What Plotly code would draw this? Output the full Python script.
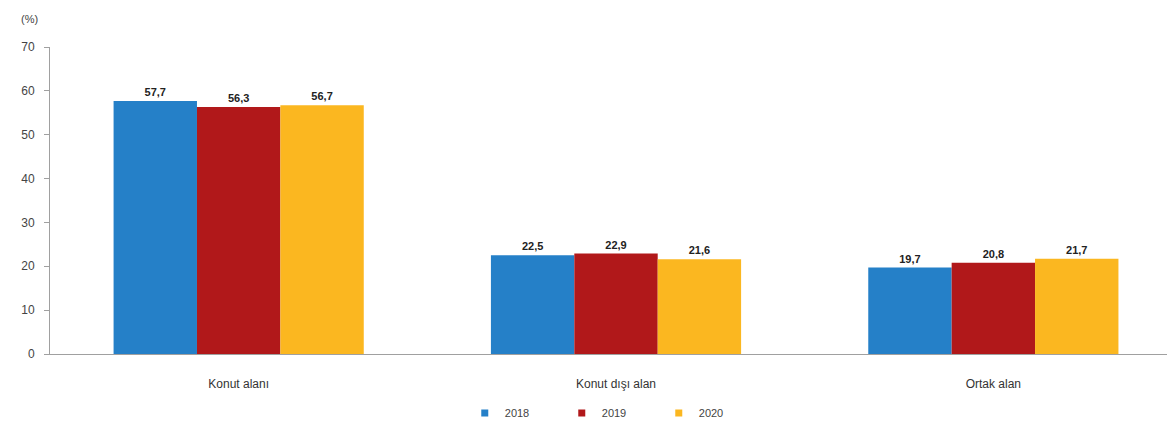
import plotly.graph_objects as go

categories = ["Konut alanı", "Konut dışı alan", "Ortak alan"]
years = ["2018", "2019", "2020"]
values_2018 = [57.7, 22.5, 19.7]
values_2019 = [56.3, 22.9, 20.8]
values_2020 = [56.7, 21.6, 21.7]
colors = ["#2580C8", "#B1181A", "#FBB720"]
y_ticks = [0, 10, 20, 30, 40, 50, 60, 70]

series = [values_2018, values_2019, values_2020]

fig = go.Figure()
for name, vals, col in zip(years, series, colors):
    fig.add_trace(go.Bar(
        x=categories, y=vals, name=name, showlegend=False,
        marker=dict(color=col, line=dict(width=0)),
        text=[f"{v:.1f}".replace(".", ",") for v in vals],
        textposition="outside",
        textfont=dict(family="Arial, Liberation Sans", size=11, color="#222222"),
        texttemplate="<b>%{text}</b>",
        cliponaxis=False,
    ))
# legend entries with small square markers
for name, col in zip(years, colors):
    fig.add_trace(go.Scatter(
        x=[None], y=[None], mode="markers", name=name,
        marker=dict(symbol="square", size=7, color=col),
        showlegend=True,
    ))

fig.update_layout(
    width=1175, height=425,
    margin=dict(l=42, r=0, t=39, b=79, autoexpand=False),
    paper_bgcolor="white", plot_bgcolor="white",
    barmode="group", bargap=0.337, bargroupgap=0,
    font=dict(family="Arial, Liberation Sans", size=12, color="#444444"),
    showlegend=True,
    legend=dict(orientation="h", x=0.4945, xanchor="center", y=-0.192, yanchor="middle",
                font=dict(size=11, color="#444444"), itemwidth=30,
                entrywidth=52, entrywidthmode="pixels",
                traceorder="normal"),
    annotations=[dict(text="(%)", xref="paper", yref="paper", x=-0.018, y=1.092,
                      showarrow=False, font=dict(size=11, color="#444444"),
                      xanchor="center", yanchor="middle")],
)
fig.update_xaxes(showline=True, linecolor="#A0A0A0", linewidth=1,
                 showgrid=False, ticks="", range=[-0.5, 2.5026],
                 ticklabelstandoff=19,
                 tickfont=dict(size=12, color="#333333"))
fig.update_yaxes(range=[0, 70], tickvals=y_ticks, showline=True,
                 linecolor="#A0A0A0", linewidth=1, showgrid=False,
                 ticks="outside", ticklen=5, tickcolor="#A0A0A0",
                 ticklabelstandoff=7,
                 zeroline=False, tickfont=dict(size=12, color="#444444"))

fig.write_html("out.html")
